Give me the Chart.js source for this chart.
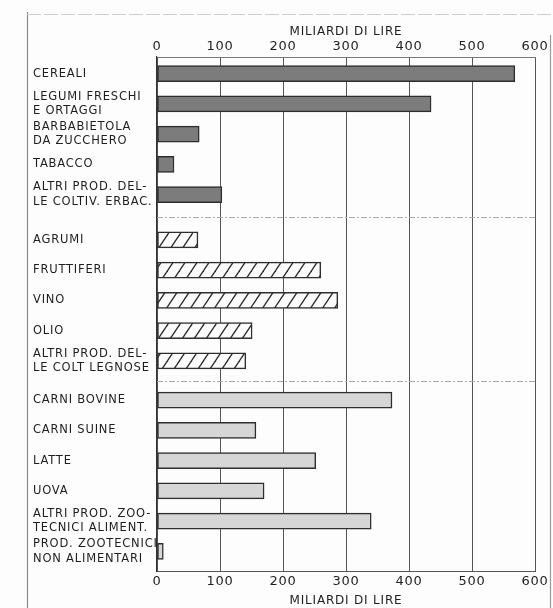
<!DOCTYPE html>
<html>
<head>
<meta charset="utf-8">
<script src="https://cdn.jsdelivr.net/npm/chart.js@4"></script>
<style>
  html, body { margin: 0; padding: 0; background: #fdfdfd; }
  canvas { display: block; }
</style>
</head>
<body>
<canvas id="chart" width="553" height="608"></canvas>
<script>
"use strict";

// categorie (etichette su piu righe)
const categories = [
  ["CEREALI"],
  ["LEGUMI FRESCHI", "E ORTAGGI"],
  ["BARBABIETOLA", "DA ZUCCHERO"],
  ["TABACCO"],
  ["ALTRI PROD. DEL-", "LE COLTIV. ERBAC."],
  ["AGRUMI"],
  ["FRUTTIFERI"],
  ["VINO"],
  ["OLIO"],
  ["ALTRI PROD. DEL-", "LE COLT LEGNOSE"],
  ["CARNI BOVINE"],
  ["CARNI SUINE"],
  ["LATTE"],
  ["UOVA"],
  ["ALTRI PROD. ZOO-", "TECNICI ALIMENT."],
  ["PROD. ZOOTECNICI", "NON ALIMENTARI"]
];

// miliardi di lire
const values = [568, 435, 67, 27, 103, 65, 260, 287, 151, 141, 373, 157, 252, 170, 340, 10];

// 0 = coltivazioni erbacee, 1 = coltivazioni legnose, 2 = zootecnia
const groups = [0, 0, 0, 0, 0, 1, 1, 1, 1, 1, 2, 2, 2, 2, 2, 2];

const xTicks = [0, 100, 200, 300, 400, 500, 600];
const axisTitle = "MILIARDI DI LIRE";

// posizione delle barre sull'asse verticale (con spazio tra i gruppi)
const groupGap = [0, 0.5, 0.8];
const positions = values.map((v, i) => i + 0.55 + groupGap[groups[i]]);
const dividers = [];
for (let i = 1; i < groups.length; i++) {
  if (groups[i] !== groups[i - 1]) dividers.push((positions[i] + positions[i - 1]) / 2);
}

function makeHatch() {
  const c = document.createElement("canvas");
  c.width = 12;
  c.height = 18;
  const g = c.getContext("2d");
  g.fillStyle = "#fbfbfb";
  g.fillRect(0, 0, 12, 18);
  g.strokeStyle = "#2a2a2a";
  g.lineWidth = 1.3;
  [-12, 0, 12].forEach((dx) => {
    g.beginPath();
    g.moveTo(dx - 2, 21);
    g.lineTo(dx + 14, -3);
    g.stroke();
  });
  return g.createPattern(c, "repeat");
}

const fills = ["#7c7c7c", makeHatch(), "#d6d6d6"];

const FONT = "'DejaVu Sans', sans-serif";
const LETTER = "0.8px";

const spacing = {
  id: "spacing",
  beforeUpdate(chart) { chart.ctx.letterSpacing = LETTER; },
  beforeDraw(chart) {
    chart.ctx.letterSpacing = LETTER;
    const ctx = chart.ctx;
    ctx.save();
    // cornice della tavola
    ctx.strokeStyle = "#8a8a8a";
    ctx.lineWidth = 1.2;
    ctx.beginPath();
    ctx.moveTo(27.5, 12);
    ctx.lineTo(27.5, 608);
    ctx.stroke();
    ctx.strokeStyle = "#cfcfcf";
    ctx.setLineDash([14, 3]);
    ctx.beginPath();
    ctx.moveTo(27, 14.5);
    ctx.lineTo(553, 14.5);
    ctx.stroke();
    ctx.setLineDash([]);
    ctx.strokeStyle = "#9a9a9a";
    ctx.beginPath();
    ctx.moveTo(550.5, 35);
    ctx.lineTo(550.5, 608);
    ctx.stroke();
    ctx.restore();
  },
  beforeDatasetsDraw(chart) {
    const ctx = chart.ctx;
    const y = chart.scales.y;
    const a = chart.chartArea;
    ctx.save();
    ctx.strokeStyle = "#a8a8a8";
    ctx.lineWidth = 1;
    ctx.setLineDash([6, 2, 2, 2]);
    dividers.forEach((d) => {
      const py = Math.round(y.getPixelForValue(d)) + 0.5;
      ctx.beginPath();
      ctx.moveTo(a.left, py);
      ctx.lineTo(a.right, py);
      ctx.stroke();
    });
    ctx.restore();
  }
};

const ctx = document.getElementById("chart").getContext("2d");
new Chart(ctx, {
  type: "bar",
  data: {
    datasets: [{
      data: values.map((v, i) => ({ x: v, y: positions[i] })),
      backgroundColor: groups.map((g) => fills[g]),
      borderColor: "#2e2e2e",
      borderWidth: 1.5,
      borderSkipped: false,
      barThickness: 16,
      xAxisID: "x",
      yAxisID: "y"
    }]
  },
  options: {
    indexAxis: "y",
    responsive: false,
    animation: false,
    layout: { padding: { left: 33, right: 18, top: 18, bottom: 0 } },
    plugins: { legend: { display: false }, tooltip: { enabled: false } },
    scales: {
      y: {
        type: "linear",
        reverse: true,
        offset: false,
        min: 0,
        max: 17,
        afterBuildTicks(scale) { scale.ticks = positions.map((p) => ({ value: p })); },
        afterFit(scale) { scale.width = 124; },
        grid: { display: false },
        border: { display: true, color: "#333", width: 1.2 },
        ticks: {
          autoSkip: false,
          crossAlign: "far",
          color: "#1e1e1e",
          font: { family: FONT, size: 11.5, lineHeight: 1.25 },
          callback: (value, index) => categories[index]
        }
      },
      x: {
        position: "bottom",
        min: 0,
        max: 600,
        afterBuildTicks(scale) { scale.ticks = xTicks.map((t) => ({ value: t })); },
        afterFit(scale) { scale.height = 37; },
        grid: { color: "#555", lineWidth: 1, drawTicks: false },
        border: { display: true, color: "#555", width: 1 },
        ticks: { padding: 3, color: "#1e1e1e", font: { family: FONT, size: 13 } },
        title: {
          display: true,
          text: axisTitle,
          color: "#1e1e1e",
          padding: { top: 0, bottom: 0 },
          font: { family: FONT, size: 12 }
        }
      },
      x2: {
        position: "top",
        min: 0,
        max: 600,
        afterBuildTicks(scale) { scale.ticks = xTicks.map((t) => ({ value: t })); },
        afterFit(scale) { scale.height = 39; },
        grid: { display: false, drawTicks: false },
        border: { display: true, color: "#777", width: 1 },
        ticks: { padding: 3, color: "#1e1e1e", font: { family: FONT, size: 13 } },
        title: {
          display: true,
          text: axisTitle,
          color: "#1e1e1e",
          padding: { top: 7, bottom: 0 },
          font: { family: FONT, size: 12 }
        }
      }
    }
  },
  plugins: [spacing]
});
</script>
</body>
</html>
